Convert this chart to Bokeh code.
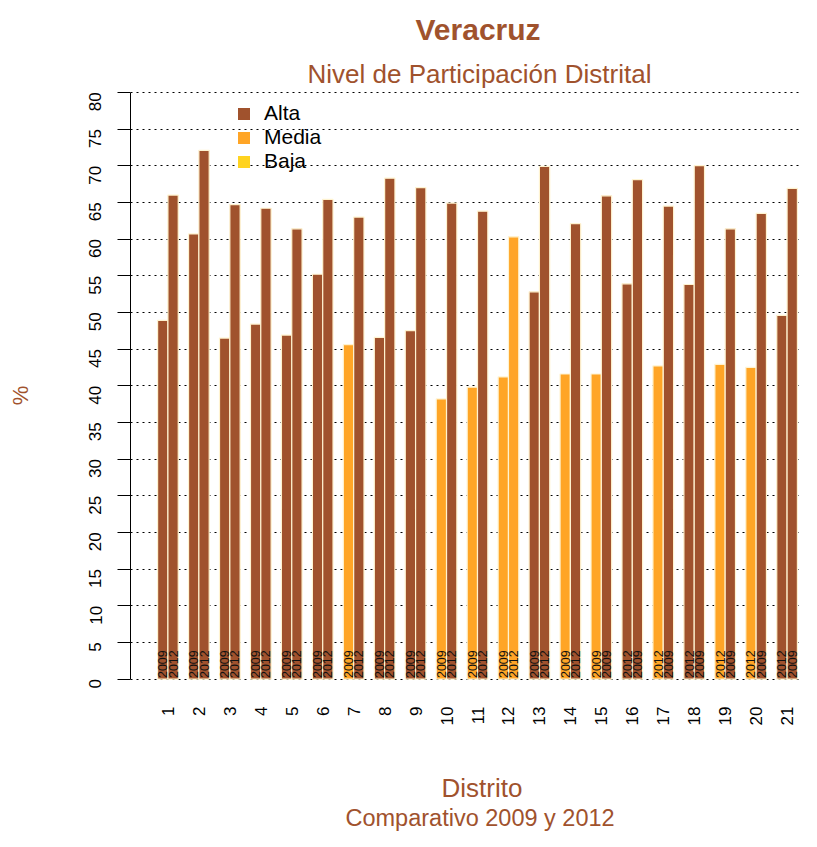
import math
from bokeh.plotting import figure
from bokeh.models import ColumnDataSource, Range1d, FixedTicker, Legend, LegendItem, Title
from bokeh.core.properties import value
from bokeh.embed import file_html
from bokeh.resources import INLINE

# ---------------- data ----------------
districts = ["1", "2", "3", "4", "5", "6", "7", "8", "9", "10", "11",
             "12", "13", "14", "15", "16", "17", "18", "19", "20", "21"]

# first (lower) bar of each district
first_values = [48.9, 60.7, 46.5, 48.4, 46.9, 55.2, 45.6, 46.6, 47.5, 38.2, 39.8,
                41.2, 52.8, 41.6, 41.6, 53.9, 42.7, 53.8, 42.9, 42.5, 49.6]
first_years = ["2009", "2009", "2009", "2009", "2009", "2009", "2009", "2009", "2009", "2009", "2009",
               "2009", "2009", "2009", "2009", "2012", "2012", "2012", "2012", "2012", "2012"]
first_levels = ["Alta", "Alta", "Alta", "Alta", "Alta", "Alta", "Media", "Alta", "Alta", "Media", "Media",
                "Media", "Alta", "Media", "Media", "Alta", "Media", "Alta", "Media", "Media", "Alta"]

# second (higher) bar of each district
second_values = [66.0, 72.1, 64.7, 64.2, 61.4, 65.4, 63.0, 68.3, 67.0, 64.9, 63.8,
                 60.3, 69.9, 62.1, 65.9, 68.1, 64.5, 70.0, 61.4, 63.5, 66.9]
second_years = ["2012", "2012", "2012", "2012", "2012", "2012", "2012", "2012", "2012", "2012", "2012",
                "2012", "2012", "2012", "2009", "2009", "2009", "2009", "2009", "2009", "2009"]
second_levels = ["Alta", "Alta", "Alta", "Alta", "Alta", "Alta", "Alta", "Alta", "Alta", "Alta", "Alta",
                 "Media", "Alta", "Alta", "Alta", "Alta", "Alta", "Alta", "Alta", "Alta", "Alta"]

levels = ["Alta", "Media", "Baja"]
level_colors = {"Alta": "#A0522D", "Media": "#FFA526", "Baja": "#FFD320"}

y_ticks = [0, 5, 10, 15, 20, 25, 30, 35, 40, 45, 50, 55, 60, 65, 70, 75, 80]

BROWN = "#A0522D"
FONT = "Liberation Sans"

# ---------------- layout of bars (groups of 2 bars + 1 gap) ----------------
xs, tops, colors, years = [], [], [], []
centers = []
for i in range(len(districts)):
    c = 3 * i + 2
    centers.append(c)
    xs += [c - 0.5, c + 0.5]
    tops += [first_values[i], second_values[i]]
    colors += [level_colors[first_levels[i]], level_colors[second_levels[i]]]
    years += [first_years[i], second_years[i]]

src = ColumnDataSource(dict(x=xs, top=tops, color=colors, year=years))

p = figure(width=801, height=831,
           x_range=Range1d(-1.626, 63.3), y_range=Range1d(-3.2, 80.53),
           output_backend="svg", toolbar_location=None, title=None,
           min_border_left=130, min_border_right=1,
           min_border_top=86, min_border_bottom=129)
p.outline_line_color = None
p.background_fill_color = "white"
p.border_fill_color = "white"

# titles (left aligned with an offset so that they are centred like the reference)
p.add_layout(Title(text="Nivel de Participación Distrital", align="left", offset=177,
                   text_font_size="26px", text_font=FONT, text_font_style="normal",
                   text_color=BROWN, standoff=0), "above")
p.add_layout(Title(text="Veracruz", align="left", offset=285,
                   text_font_size="30px", text_font=FONT, text_font_style="bold",
                   text_color=BROWN, standoff=21), "above")

# bars
p.vbar(x="x", top="top", bottom=0, width=1, source=src,
       fill_color="color", line_color="#FFF3D0", line_width=1.2)

# year labels inside bars
p.text(x="x", y=0, text="year", source=src, angle=math.pi / 2,
       text_align="left", text_baseline="middle", y_offset=-1,
       text_font=value(FONT), text_font_size="12.5px", text_color="#111111")

# legend: one single-item legend per level, stacked tightly like the reference
legend_y = [577, 553, 529]
for lvl, ly in zip(levels, legend_y):
    r = p.vbar(x=[0], top=[float("nan")], width=1,
               fill_color=level_colors[lvl], line_alpha=0)
    lg = Legend(items=[LegendItem(label=lvl, renderers=[r])], location=(106, ly),
                orientation="vertical", glyph_width=15, glyph_height=15, label_standoff=13,
                label_text_font_size="21px", label_text_font=FONT,
                label_text_color="black", label_height=20, spacing=0,
                padding=0, margin=0, border_line_alpha=0, background_fill_alpha=0)
    p.add_layout(lg, "center")

# grid
yticker = FixedTicker(ticks=y_ticks)
p.xgrid.visible = False
p.ygrid.ticker = yticker
p.ygrid.grid_line_color = "black"
p.ygrid.grid_line_dash = "2 4"
p.ygrid.grid_line_width = 1

# y axis
ya = p.yaxis[0]
ya.ticker = yticker
ya.bounds = (0, 80)
ya.major_tick_out = 13
ya.major_tick_in = 0
ya.minor_tick_line_color = None
ya.major_label_standoff = 22
ya.major_label_orientation = math.pi / 2
ya.major_label_text_font = FONT
ya.major_label_text_font_size = "17px"
ya.major_label_text_color = "black"
ya.axis_line_color = "black"
ya.major_tick_line_color = "black"
ya.axis_label = "%"
ya.axis_label_text_font = FONT
ya.axis_label_text_font_size = "22px"
ya.axis_label_text_font_style = "normal"
ya.axis_label_text_color = BROWN
ya.axis_label_standoff = 48

# x axis
xa = p.xaxis[0]
xa.ticker = FixedTicker(ticks=centers)
xa.major_label_overrides = {c: d for c, d in zip(centers, districts)}
xa.axis_line_color = None
xa.major_tick_line_color = None
xa.minor_tick_line_color = None
xa.major_tick_out = 0
xa.major_tick_in = 0
xa.major_label_standoff = 4
xa.major_label_orientation = math.pi / 2
xa.major_label_text_font = FONT
xa.major_label_text_font_size = "17px"
xa.major_label_text_color = "black"

# vertical gap between the tick labels and the x axis title
p.add_layout(Title(text=" ", text_font_size="1px", standoff=39), "below")
p.add_layout(Title(text="Distrito", align="left", offset=311,
                   text_font_size="26px", text_font=FONT, text_font_style="normal",
                   text_color=BROWN, standoff=0), "below")
p.add_layout(Title(text="Comparativo 2009 y 2012", align="left", offset=215,
                   text_font_size="23.5px", text_font=FONT, text_font_style="normal",
                   text_color=BROWN, standoff=0), "below")

open("out.html", "w").write(file_html(p, INLINE))
